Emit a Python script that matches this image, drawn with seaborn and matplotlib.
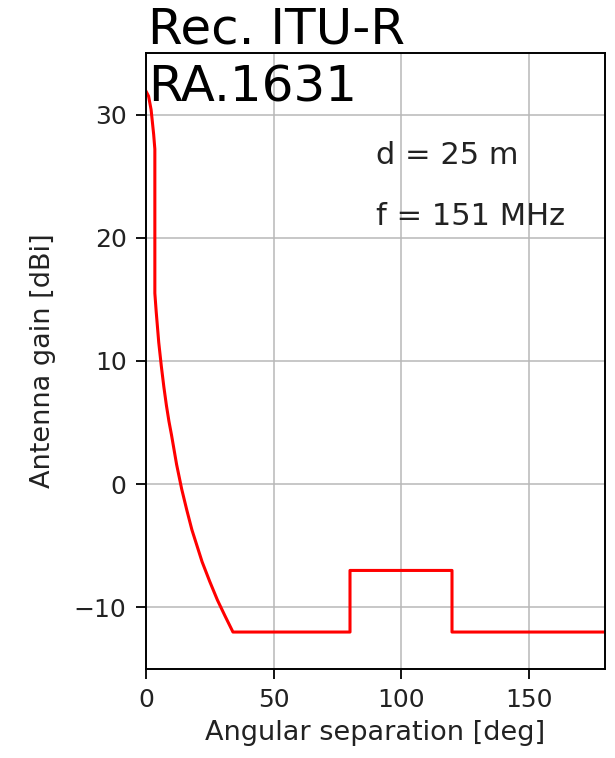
import matplotlib
matplotlib.use('Agg')
import matplotlib.pyplot as plt
import seaborn as sns
import pandas as pd

# RA.1631 pattern, d = 25 m, f = 151 MHz
phi_deg = [0, 1, 2, 3, 3.47, 3.47, 4, 5, 6, 7, 8, 9, 10, 12, 14, 16, 18,
           20, 22, 25, 28, 31, 34.1, 80, 80, 120, 120, 180]
gain_dbi = [31.9, 31.5, 30.4, 28.4, 27.2, 15.5, 14.0, 11.5, 9.6, 7.9, 6.4,
            5.1, 4.0, 1.6, -0.4, -2.1, -3.7, -5.0, -6.3, -7.9, -9.4, -10.7,
            -12.0, -12.0, -7.0, -7.0, -12.0, -12.0]
x_ticks = [0, 50, 100, 150]
y_ticks = [-10, 0, 10, 20, 30]
notes = ['d = 25 m', 'f = 151 MHz']

df = pd.DataFrame({'phi': phi_deg, 'gain': gain_dbi})

plt.rcParams['font.family'] = ['DejaVu Sans']
plt.rcParams['axes.unicode_minus'] = True

fig = plt.figure(figsize=(6.15, 7.58), dpi=100)
ax = fig.add_axes([146/615, 1 - 669/758, 459/615, 616/758])

sns.lineplot(data=df, x='phi', y='gain', ax=ax, color='red', linewidth=2.2,
             estimator=None, sort=False)

ax.set_xlim(0, 180)
ax.set_ylim(-15, 35)
ax.set_xticks(x_ticks)
ax.set_yticks(y_ticks)
ax.grid(True, color='#b8b8b8', linewidth=1.1)
ax.tick_params(labelsize=18, length=7, width=1.3, pad=7, labelcolor='#222222')
for s in ax.spines.values():
    s.set_linewidth(1.4)

ax.set_xlabel('Angular separation [deg]', fontsize=19.5, color='#222222')
ax.set_ylabel('Antenna gain [dBi]', fontsize=19.5, color='#222222')
ax.xaxis.set_label_coords(0.5, -0.082)
ax.yaxis.set_label_coords(-0.197, 0.5)

ax.text(90, 26, notes[0], fontsize=22, color='#222222')
ax.text(90, 21, notes[1], fontsize=22, color='#222222')

fig.text(148/615, 1 - 44/758, 'Rec. ITU-R', fontsize=36, va='baseline')
fig.text(148/615, 1 - 101/758, 'RA.1631', fontsize=36, va='baseline')

fig.savefig('out.png', dpi=100)
plt.close()
